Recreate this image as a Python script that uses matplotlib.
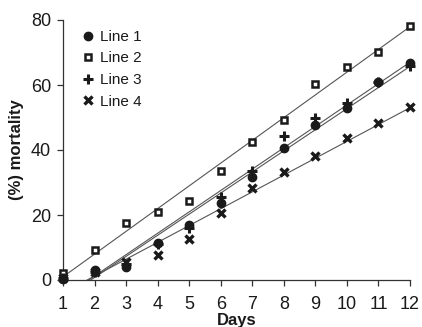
import numpy as np
import matplotlib.pyplot as plt

plt.rcParams['font.family'] = ['Liberation Sans', 'DejaVu Sans']

# data
days = np.arange(1, 13)
line1 = [0.3, 3.0, 4.0, 11.3, 17.0, 23.6, 31.7, 40.6, 47.7, 53.0, 61.0, 66.8]
line2 = [2.2, 9.2, 17.5, 21.0, 24.3, 33.4, 42.5, 49.2, 60.3, 65.5, 70.2, 78.2]
line3 = [0.5, 2.5, 5.0, 11.0, 16.0, 25.6, 33.5, 44.3, 50.0, 54.5, 61.0, 66.0]
line4 = [0.5, 2.5, 5.5, 7.7, 12.6, 20.6, 28.3, 33.2, 38.2, 43.7, 48.3, 53.2]
labels = ['Line 1', 'Line 2', 'Line 3', 'Line 4']

fig = plt.figure(figsize=(4.22, 3.27), dpi=100)
ax = fig.add_axes([63 / 422, 47 / 327, 347 / 422, 260 / 327])

styles = [
    dict(marker='o', ms=6, mfc='#1a1a1a', mec='#1a1a1a'),
    dict(marker='s', ms=5, mfc='white', mec='#1a1a1a', mew=1.8),
    dict(marker='+', ms=7.5, mec='#1a1a1a', mew=2.2),
    dict(marker='x', ms=6, mec='#1a1a1a', mew=2.4),
]

for y, lab, st in zip([line1, line2, line3, line4], labels, styles):
    # regression line through each series
    k, b = np.polyfit(days, y, 1)
    x0 = max(1.0, -b / k)
    xs = np.array([x0, 12.0])
    ax.plot(xs, k * xs + b, color='#555555', lw=0.8, zorder=2)
    ax.plot(days, y, ls='none', label=lab, clip_on=False, zorder=3, **st)

ax.set_xlim(1, 12)
ax.set_ylim(0, 80)
ax.set_xticks(days)
ax.set_yticks([0, 20, 40, 60, 80])
for s in ['top', 'right']:
    ax.spines[s].set_visible(False)
for s in ['left', 'bottom']:
    ax.spines[s].set_color('#333333')
    ax.spines[s].set_linewidth(0.9)
ax.tick_params(direction='out', length=4.5, width=0.9, color='#333333',
               labelsize=13, labelcolor='#1a1a1a')
ax.tick_params(axis='x', pad=7)
ax.tick_params(axis='y', pad=4)

ax.set_xlabel('Days', fontsize=12, fontweight='bold', labelpad=0, color='#1a1a1a')
ax.set_ylabel('(%) mortality', fontsize=12, fontweight='bold', labelpad=5, color='#1a1a1a')

leg = ax.legend(loc='upper left', bbox_to_anchor=(0.011, 1.015), frameon=False,
                handletextpad=0.3, labelspacing=0.5, handlelength=1.0,
                prop={'size': 11})
for t in leg.get_texts():
    t.set_color('#1a1a1a')

fig.savefig('out.png', dpi=100)
